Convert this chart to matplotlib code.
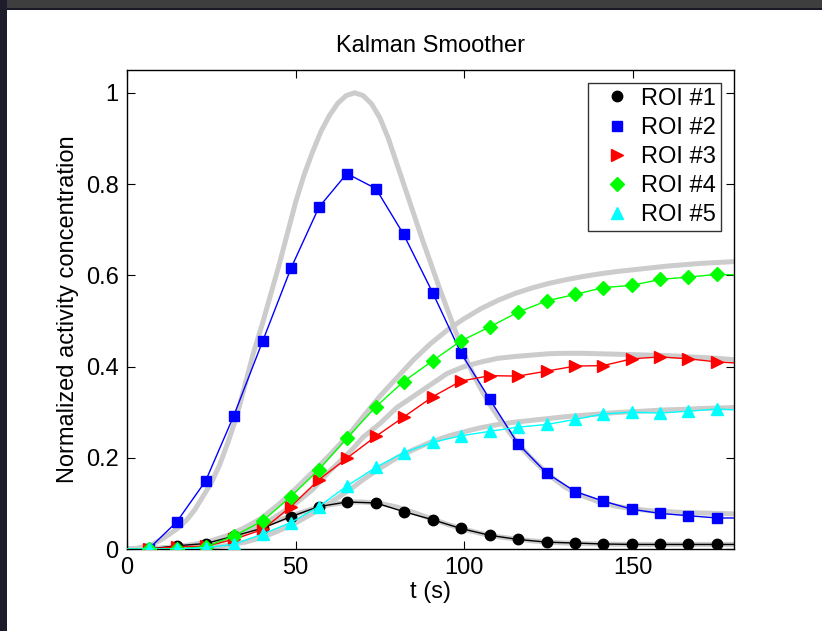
import matplotlib
matplotlib.use("Agg")
import matplotlib.pyplot as plt
from matplotlib.lines import Line2D
from matplotlib.patches import Rectangle
from matplotlib.ticker import FuncFormatter

plt.rcParams['font.family'] = ['Liberation Sans', 'DejaVu Sans']

# Sample times of the smoothed estimates (s); first and last are the curve ends
t_est = [0.0, 6.4, 14.7, 23.3, 31.6, 40.3, 48.6, 56.9, 65.2, 73.8, 82.0,
         90.7, 99.0, 107.6, 115.9, 124.5, 132.9, 141.2, 149.8, 158.1, 166.4, 175.0, 180.0]

# Kalman-smoothed estimates per ROI
roi1 = [0.0, 0.0, 0.007, 0.012, 0.028, 0.046, 0.071, 0.093, 0.103, 0.101, 0.082,
        0.064, 0.045, 0.030, 0.021, 0.015, 0.013, 0.011, 0.010, 0.010, 0.010, 0.010, 0.010]
roi2 = [0.0, 0.0, 0.059, 0.149, 0.291, 0.457, 0.615, 0.749, 0.823, 0.790, 0.690,
        0.561, 0.430, 0.328, 0.231, 0.166, 0.126, 0.105, 0.087, 0.078, 0.073, 0.068, 0.068]
roi3 = [0.0, 0.0, 0.005, 0.006, 0.021, 0.043, 0.093, 0.152, 0.199, 0.247, 0.289,
        0.334, 0.368, 0.380, 0.379, 0.390, 0.401, 0.402, 0.417, 0.421, 0.417, 0.410, 0.408]
roi4 = [0.0, 0.0, 0.0, 0.005, 0.028, 0.062, 0.115, 0.174, 0.243, 0.312, 0.367,
        0.413, 0.456, 0.487, 0.519, 0.544, 0.558, 0.573, 0.578, 0.591, 0.596, 0.602, 0.601]
roi5 = [0.0, 0.0, 0.0, 0.003, 0.010, 0.033, 0.058, 0.093, 0.138, 0.179, 0.211,
        0.234, 0.248, 0.258, 0.267, 0.273, 0.284, 0.296, 0.300, 0.298, 0.302, 0.307, 0.305]

# True activity curves
t_true = [0, 5, 10, 15, 20, 25, 30, 35, 40, 45, 50, 55, 60, 65, 67, 70, 75, 80, 85, 90,
          95, 100, 105, 110, 115, 120, 125, 130, 135, 140, 145, 150, 155, 160, 165,
          170, 175, 180]
true1 = [0.0, 0.0, 0.002, 0.005, 0.010, 0.017, 0.026, 0.037, 0.050, 0.063, 0.076,
         0.088, 0.097, 0.102, 0.103, 0.103, 0.100, 0.092, 0.080, 0.067, 0.054, 0.043,
         0.034, 0.027, 0.022, 0.018, 0.015, 0.013, 0.012, 0.011, 0.0105, 0.010, 0.010,
         0.010, 0.010, 0.010, 0.010, 0.010]
true3 = [0.0, 0.0, 0.001, 0.003, 0.007, 0.013, 0.022, 0.035, 0.052, 0.075, 0.100,
         0.130, 0.170, 0.205, 0.220, 0.245, 0.275, 0.310, 0.335, 0.360, 0.385, 0.400,
         0.410, 0.418, 0.422, 0.425, 0.428, 0.429, 0.429, 0.428, 0.427, 0.426, 0.425,
         0.424, 0.422, 0.420, 0.418, 0.415]
true4 = [0.0, 0.0, 0.002, 0.005, 0.010, 0.018, 0.030, 0.047, 0.068, 0.098, 0.132,
         0.168, 0.205, 0.245, 0.262, 0.290, 0.335, 0.375, 0.415, 0.450, 0.480, 0.505,
         0.527, 0.545, 0.560, 0.572, 0.582, 0.590, 0.597, 0.603, 0.608, 0.612, 0.616,
         0.620, 0.623, 0.626, 0.628, 0.630]
true5 = [0.0, 0.0, 0.0, 0.001, 0.002, 0.004, 0.008, 0.015, 0.025, 0.040, 0.057,
         0.078, 0.100, 0.125, 0.135, 0.152, 0.177, 0.200, 0.218, 0.234, 0.247, 0.257,
         0.266, 0.273, 0.278, 0.282, 0.286, 0.290, 0.293, 0.296, 0.299, 0.301, 0.303,
         0.305, 0.306, 0.308, 0.309, 0.310]

# ROI #2 true curve is sampled more finely around its peak
t_true2 = [0, 2.5, 5, 7.5, 10, 12.5, 15, 17.5, 20, 22.5, 25, 27.5, 30, 32.5, 35, 37.5,
           40, 42.5, 45, 47.5, 50, 52.5, 55, 57.5, 60, 62.5, 65, 67.5, 70, 72.5, 75,
           77.5, 80, 82.5, 85, 87.5, 90, 92.5, 95, 97.5, 100, 102.5, 105, 107.5, 110,
           112.5, 115, 117.5, 120, 125, 130, 135, 140, 145, 150, 155, 160, 165, 170,
           175, 180]
true2 = [0.0, 0.001, 0.005, 0.010, 0.020, 0.032, 0.045, 0.062, 0.085, 0.115, 0.145,
         0.185, 0.235, 0.290, 0.360, 0.430, 0.490, 0.555, 0.620, 0.690, 0.760, 0.820,
         0.870, 0.915, 0.950, 0.977, 0.994, 1.000, 0.994, 0.976, 0.945, 0.900, 0.845,
         0.790, 0.735, 0.680, 0.628, 0.575, 0.525, 0.476, 0.427, 0.385, 0.350, 0.318,
         0.290, 0.265, 0.240, 0.218, 0.198, 0.163, 0.135, 0.117, 0.103, 0.094, 0.088,
         0.084, 0.082, 0.080, 0.079, 0.078, 0.077]

labels = ['ROI #1', 'ROI #2', 'ROI #3', 'ROI #4', 'ROI #5']
colors = ['#000000', '#0000ff', '#ff0000', '#00ff00', '#00ffff']
markers = ['o', 's', '>', 'D', '^']
msizes = [7.5, 6.5, 9.0, 7.0, 9.0]

fig = plt.figure(figsize=(8.22, 6.31), dpi=100)
fig.patch.set_facecolor('white')

# window frame edges
fig.patches.append(Rectangle((0, 1 - 8 / 631), 1, 8 / 631, transform=fig.transFigure,
                             facecolor='#3e3e3e', edgecolor='none', zorder=10))
fig.patches.append(Rectangle((0, 1 - 10 / 631), 1, 2 / 631, transform=fig.transFigure,
                             facecolor='#1a1a26', edgecolor='none', zorder=10))
fig.patches.append(Rectangle((0, 0), 7 / 822, 1, transform=fig.transFigure,
                             facecolor='#1c1c2a', edgecolor='none', zorder=10))

ax = fig.add_axes([127 / 822, 82 / 631, 607 / 822, 479 / 631])

for tt, yy in [(t_true, true1), (t_true2, true2), (t_true, true3),
               (t_true, true4), (t_true, true5)]:
    ax.plot(tt, yy, color='#cccccc', lw=3.6, solid_capstyle='round',
            solid_joinstyle='round', zorder=1)

mark_idx = list(range(1, len(t_est) - 1))
for y, c, m, ms in zip([roi1, roi2, roi3, roi4, roi5], colors, markers, msizes):
    ax.plot(t_est, y, color=c, lw=1.0, marker=m, ms=ms, mec=c, mfc=c,
            markevery=mark_idx, zorder=3)

ax.set_xlim(0, 180)
ax.set_ylim(0, 1.05)
ax.set_xticks([0, 50, 100, 150])
ax.set_yticks([0, 0.2, 0.4, 0.6, 0.8, 1.0])
ax.yaxis.set_major_formatter(FuncFormatter(lambda v, p: f"{v:g}"))
ax.tick_params(direction='in', length=6, width=0.8, top=True, right=True,
               labelsize=17, pad=6)
for s in ax.spines.values():
    s.set_linewidth(1.0)

ax.set_title('Kalman Smoother', fontsize=17, pad=13)
ax.set_xlabel('t (s)', fontsize=17, labelpad=1)
ax.set_ylabel('Normalized activity concentration', fontsize=17, labelpad=5)

handles = [Line2D([], [], color=c, marker=m, ls='none', ms=ms, mec=c, mfc=c)
           for c, m, ms in zip(colors, markers, msizes)]
leg = ax.legend(handles, labels, loc='upper right', fontsize=17, frameon=True,
                fancybox=False, borderaxespad=0.55, handlelength=2.0,
                handletextpad=0.05, labelspacing=0.3, borderpad=0.2)
leg.get_frame().set_edgecolor('black')
leg.get_frame().set_linewidth(1.0)

fig.savefig('out.png', dpi=100, facecolor=fig.get_facecolor())
